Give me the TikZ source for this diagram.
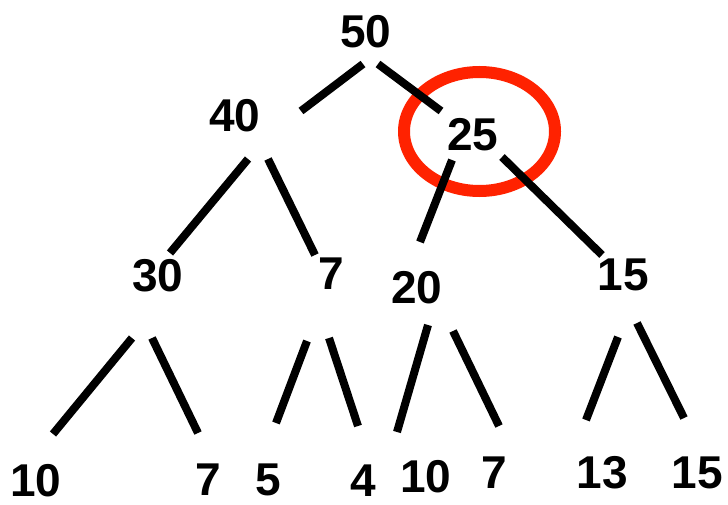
\documentclass[tikz,border=0pt]{standalone}
\usepackage{fontspec}
\setmainfont{Liberation Sans}
\usetikzlibrary{calc}
\definecolor{ringred}{RGB}{255,34,0}
\tikzset{
  num/.style={inner sep=0pt, font=\fontsize{46}{46}\selectfont\bfseries},
  edge/.style={line width=8pt, black, line cap=butt},
  ring/.style={line width=12pt, draw=ringred}
}
\begin{document}
\begin{tikzpicture}[x=1pt,y=-1pt]
\useasboundingbox (0,0) rectangle (728,505);
\fill[white] (0,0) rectangle (728,505);
\node[num] (n50) at (366,32) {50};
\node[num] (n40) at (235,116) {40};
\node[num] (n25) at (473,135) {25};
\node[num] (n30) at (158,276) {30};
\node[num] (n7a) at (331,274) {7};
\node[num] (n20) at (417,288) {20};
\node[num] (n15a) at (623,275) {15};
\node[num] (n10a) at (36,481) {10};
\node[num] (n7b) at (208,480) {7};
\node[num] (n5) at (268,480) {5};
\node[num] (n4) at (363,481) {4};
\node[num] (n10b) at (426,477) {10};
\node[num] (n7c) at (494,473) {7};
\node[num] (n13) at (602,473) {13};
\node[num] (n15b) at (697,473) {15};
\coordinate (ringc) at (479.5,131.5);
\draw[ring] (ringc) ellipse [x radius=75.5, y radius=59.5];
\draw[edge] ($(n50)+(-3,32)$) -- ($(n40)+(66,-5)$);
\draw[edge] ($(n50)+(12,32)$) -- ($(n25)+(-32,-24)$);
\draw[edge] ($(n40)+(13,43)$) -- ($(n30)+(12,-23)$);
\draw[edge] ($(n40)+(33,43)$) -- ($(n7a)+(-16,-19)$);
\draw[edge] ($(n25)+(-21,25)$) -- ($(n20)+(3,-46)$);
\draw[edge] ($(n25)+(29,22)$) -- ($(n15a)+(-21,-20)$);
\draw[edge] ($(n30)+(-26,62)$) -- ($(n10a)+(17,-47)$);
\draw[edge] ($(n30)+(-6,62)$) -- ($(n7b)+(-10,-47)$);
\draw[edge] ($(n7a)+(-24,67)$) -- ($(n5)+(8,-57)$);
\draw[edge] ($(n7a)+(-2,64)$) -- ($(n4)+(-5,-55)$);
\draw[edge] ($(n20)+(11,37)$) -- ($(n10b)+(-29,-45)$);
\draw[edge] ($(n20)+(36,43)$) -- ($(n7c)+(5,-47)$);
\draw[edge] ($(n15a)+(-5,62)$) -- ($(n13)+(-16,-53)$);
\draw[edge] ($(n15a)+(14,48)$) -- ($(n15b)+(-13,-55)$);
\end{tikzpicture}
\end{document}
